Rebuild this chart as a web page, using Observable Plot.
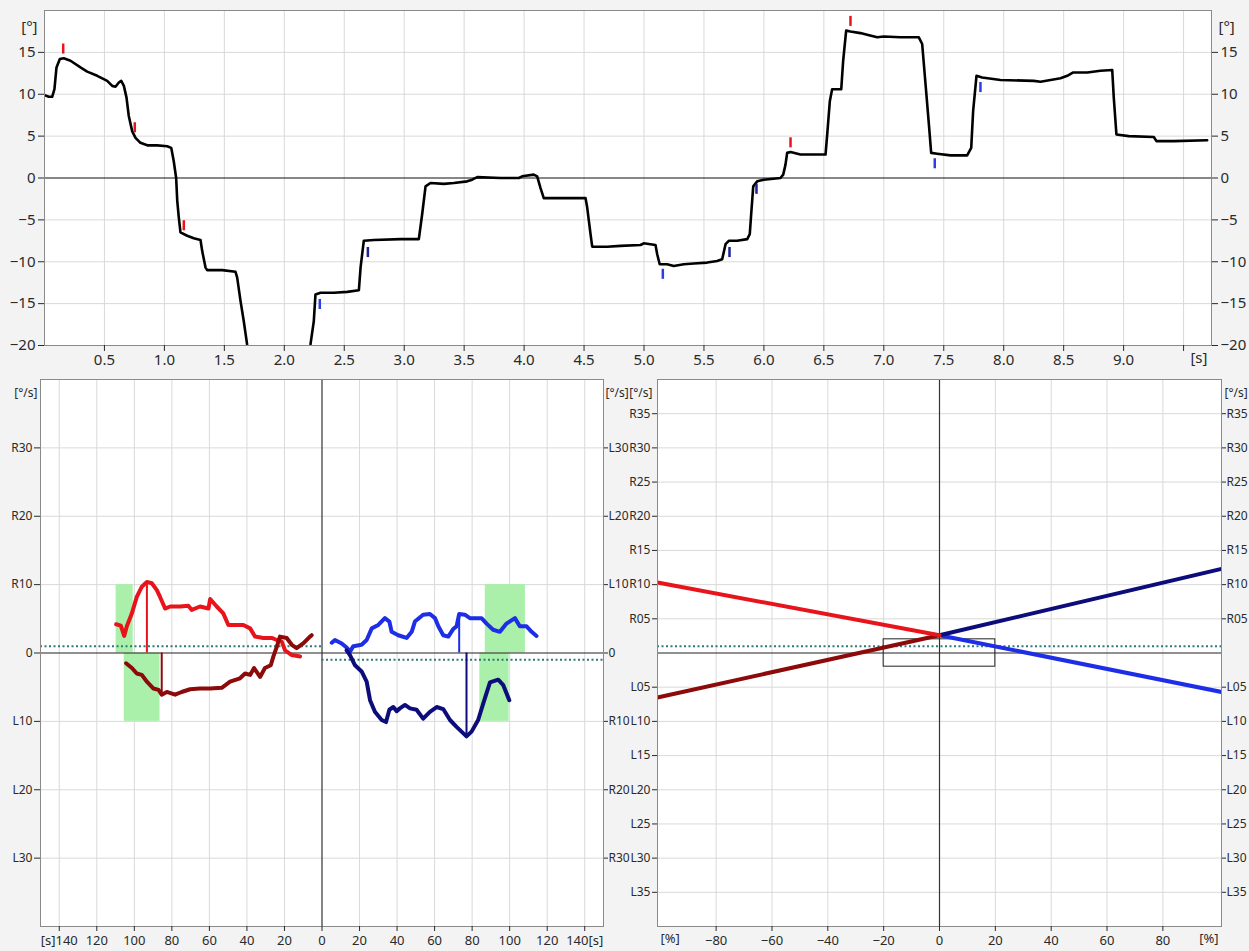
<!DOCTYPE html>
<html><head><meta charset="utf-8">
<script src="https://cdn.jsdelivr.net/npm/d3@7"></script>
<script src="https://cdn.jsdelivr.net/npm/@observablehq/plot@0.6"></script>
<style>
html,body{margin:0;padding:0;background:#f3f3f3;}
#wrap{position:relative;width:1249px;height:951px;overflow:hidden;font-family:"Noto Sans",sans-serif;}
#top,#bl,#br{position:absolute;}
#top{left:0;top:0} #bl{left:0;top:370px} #br{left:630px;top:370px}
</style></head><body><div id="wrap"><div id="top"></div><div id="bl"></div><div id="br"></div></div>
<script>
// ---------- TOP: angle over time ----------
const angleT = [0,0.036,0.064,0.083,0.1,0.128,0.161,0.217,0.3,0.356,
0.44,0.523,0.565,0.592,0.62,0.64,0.662,0.684,0.703,0.731,
0.759,0.8,0.857,0.94,1.023,1.057,1.078,1.098,1.107,1.12,
1.134,1.19,1.245,1.301,1.315,1.343,1.357,1.482,1.593,1.607,
1.635,1.662,1.69,1.72,1.95,2.19,2.218,2.246,2.26,2.302,
2.413,2.525,2.622,2.636,2.663,2.747,2.97,3.122,3.15,3.178,
3.219,3.33,3.414,3.525,3.567,3.609,3.803,3.956,3.984,4.081,
4.109,4.137,4.164,4.359,4.512,4.526,4.554,4.568,4.693,4.804,
4.971,4.998,5.096,5.11,5.131,5.193,5.248,5.332,5.415,5.527,
5.61,5.652,5.68,5.707,5.777,5.861,5.882,5.894,5.911,5.944,
5.999,6.138,6.161,6.18,6.194,6.222,6.305,6.514,6.528,6.55,
6.569,6.645,6.661,6.686,6.722,6.805,6.861,6.945,7.0,7.139,
7.292,7.32,7.348,7.376,7.395,7.445,7.556,7.695,7.729,7.745,
7.773,7.82,7.973,8.251,8.307,8.474,8.53,8.58,8.697,8.807,
8.905,8.918,8.94,9.043,9.252,9.274,9.419,9.697];
const angleV = [9.9,9.7,9.7,10.6,13.2,14.2,14.3,14.0,13.2,12.7,
12.2,11.6,11.0,10.9,11.4,11.6,11.0,9.6,7.4,5.6,
4.8,4.2,3.9,3.9,3.8,3.6,2.0,0.0,-2.7,-4.7,
-6.5,-6.9,-7.2,-7.4,-8.7,-10.7,-11.0,-11.0,-11.2,-11.9,
-14.7,-17.1,-19.9,-22,-25,-22,-19.9,-17.1,-13.9,-13.7,
-13.7,-13.6,-13.4,-10.7,-7.5,-7.4,-7.3,-7.3,-4.3,-1.0,
-0.6,-0.7,-0.6,-0.4,-0.2,0.1,0.0,0.0,0.2,0.4,
0.2,-1.2,-2.4,-2.4,-2.4,-3.5,-6.7,-8.2,-8.2,-8.1,
-8.0,-7.8,-8.0,-9.1,-10.3,-10.3,-10.5,-10.3,-10.2,-10.1,
-9.9,-9.7,-7.9,-7.5,-7.5,-7.3,-6.7,-4.3,-1.0,-0.4,
-0.2,0.0,0.4,1.6,3.0,3.1,2.8,2.8,5.2,9.2,
10.6,10.6,14.0,17.6,17.5,17.3,17.1,16.8,16.9,16.8,
16.8,16.0,11.2,6.4,3.0,2.9,2.7,2.7,3.6,8.0,
12.2,12.0,11.7,11.6,11.5,11.9,12.2,12.6,12.6,12.8,
12.9,9.6,5.2,5.0,4.9,4.4,4.4,4.5];
const markerT = [0.156,0.753,1.162,2.296,2.697,5.157,5.713,5.938,6.222,6.722,7.425,7.806];
const markerV = [15.4,6.0,-5.7,-15.1,-8.9,-11.5,-8.9,-1.35,4.2,18.7,1.7,10.8];
const markerKind = ["R","R","R","L","Ld","L","Ld","Ld","R","R","L","L"];
const topXDomain = [0, 9.733];
const topYDomain = [-20, 20];
const topXTicks = d3.range(1, 20).map(i => i / 2);   // 0.5 … 9.5
const topYTicks = d3.range(-20, 20, 5);              // -20 … 15

// ---------- BOTTOM LEFT: velocity profiles (mirrored time axis) ----------
const leftUpX = [109.7,107.2,105.4,104,101.3,98.7,96,93.3,90.7,88,86.3,83.6,80.9,75.6,71.2,69.4,65,60.5,59.6,56.1,52.6,49.9,45.4,41.9,38.3,35.7,31.3,26.8,24.1,21.5,19.7,16.1,11.7];
const leftUpY = [4.2,4.0,2.5,3.9,5.8,8.2,9.7,10.4,10.2,9.2,8.2,6.5,6.8,6.8,6.9,6.3,6.8,6.5,7.9,6.8,5.8,4.1,4.1,4.1,3.6,2.4,2.2,2.2,1.9,1.7,0.4,-0.3,-0.5];
const leftLowX = [104.4,101.3,98.7,96,93.3,89.8,87.1,85.4,82.7,78.3,74.8,70.3,65,59.6,53.4,49,43.7,41,38.3,36.2,33,30.4,27.3,25.9,24.1,22.4,18.8,16.1,13.5,10,6.4,5.5];
const leftLowY = [-1.5,-2.2,-3.0,-3.2,-4.2,-5.2,-5.4,-6.1,-5.7,-6.1,-5.7,-5.3,-5.2,-5.2,-5.1,-4.2,-3.7,-3.0,-3.2,-2.2,-3.5,-2.2,-1.8,-0.5,0.9,2.4,2.2,1.2,0.7,1.4,2.4,2.6];
const rightUpX = [5.2,6.9,10.5,13.1,14.9,16.7,21.1,23.8,26.5,30,33.5,35.9,37.1,40.6,45.1,47.8,49.5,53.9,57.5,60.2,62,64.6,67.3,69.9,71.7,73.1,76.1,78.8,85,87.7,91.2,94.8,98.3,102.8,105.4,109,111.7,114.3];
const rightUpY = [1.5,1.9,1.4,0.8,0.2,1.0,1.2,1.9,3.6,4.1,5.1,4.6,3.1,2.6,2.2,3.1,4.6,5.6,5.7,5.1,3.9,2.6,2.4,3.5,3.9,5.7,5.6,5.1,5.1,4.3,3.4,3.1,4.3,5.1,3.9,3.9,3.1,2.5];
const rightLowX = [13.1,14.9,17.6,21.1,23.8,25.6,28.2,31.8,34.1,35.9,38,39.8,41.5,44.2,46.9,50.4,53.9,57.5,61.1,64.6,68.2,71.7,77,79.7,83.2,85.9,89.5,93.9,96.6,99.8];
const rightLowY = [0.4,-0.3,-1.8,-2.7,-4.2,-6.9,-8.6,-9.8,-10.1,-8.3,-7.9,-8.5,-8.1,-7.6,-8.1,-8.3,-9.6,-8.6,-7.9,-8.2,-9.8,-10.8,-12.2,-11.5,-9.8,-7.4,-4.3,-3.9,-4.7,-6.9];
const peakSide = ["leftUp","leftLow","rightUp","rightLow"];
const peakX = [93.3, 85.4, 73.1, 77];
const peakY = [10.3, -6.1, 5.7, -12.2];
const zoneSide = ["leftUp","leftLow","rightUp","rightLow"];
const zoneX1 = [100.6, 86.3, 87, 84.1];
const zoneX2 = [109.7, 105.4, 108.4, 99.7];
const zoneY = [10, -10, 10, -10];
const thresholdLeft = 1;
const thresholdRight = -1;
const blXDomain = [-150, 150];
const velYDomain = [-40, 40];
const blXTicks = d3.range(-140, 141, 20);
const blYTicks = d3.range(-30, 31, 10);

// ---------- BOTTOM RIGHT: trend lines ----------
const trendX = [-101, 0, 101];
const redTrendY = [10.3, 2.6];      // x: -101 → 0
const darkRedTrendY = [-6.5, 2.6];  // x: -101 → 0
const blueTrendY = [2.6, -5.7];     // x: 0 → 101
const navyTrendY = [2.6, 12.3];     // x: 0 → 101
const boxX = [-20, 20];
const boxY = [-2, 2];
const brThreshold = 1;
const brXTicks = d3.range(-80, 81, 20);
const brYTicks = d3.range(-35, 36, 5).filter(d => d !== 0);

// ---------- helpers ----------
const C = {red: "#e8141c", darkred: "#8c0a0a", blue: "#1d2ee6", navy: "#0c0c7a", grid: "#d9d9d9", frame: "#8a8a8a", green: "#aaf0aa", dots: "#2c7a7a"};
const baseStyle = {background: "transparent", overflow: "visible", fontFamily: "'Noto Sans', sans-serif", fontSize: "15px", color: "#2a2a2a"};
const zip = (xs, ys, extra) => xs.map((x, i) => ({x, y: ys[i], ...extra}));

// ---------- TOP PLOT ----------
const angleRows = zip(angleT, angleV);
const markerRows = markerT.map((t, i) => ({t, v: markerV[i], kind: markerKind[i]}));
const topPlot = Plot.plot({
  width: 1249, height: 370,
  marginLeft: 44, marginRight: 38, marginTop: 10, marginBottom: 25,
  style: baseStyle,
  x: {domain: topXDomain, axis: null},
  y: {domain: topYDomain, axis: null},
  color: {domain: ["R", "L", "Ld"], range: [C.red, "#2a3de8", "#1c2296"]},
  marks: [
    Plot.frame({fill: "white", stroke: "none"}),
    Plot.gridX(topXTicks, {stroke: C.grid, strokeOpacity: 1}),
    Plot.gridY(topYTicks.filter(d => d !== 0 && d !== -20), {stroke: C.grid, strokeOpacity: 1}),
    Plot.ruleY([0], {stroke: "#111", strokeWidth: 1.2}),
    Plot.line(angleRows, {x: "x", y: "y", stroke: "#000", strokeWidth: 2.6, clip: true}),
    Plot.ruleX(markerRows, {x: "t", y1: d => d.v - 0.6, y2: d => d.v + 0.6, stroke: "kind", strokeWidth: 2.5}),
    Plot.frame({stroke: C.frame}),
    Plot.axisX(topXTicks, {anchor: "bottom", label: null, tickSize: 6, tickFormat: d => d === 9.5 ? "" : d.toFixed(1)}),
    Plot.axisY(topYTicks, {anchor: "left", label: null, tickSize: 6}),
    Plot.axisY(topYTicks, {anchor: "right", label: null, tickSize: 6}),
    Plot.text(["[s]"], {frameAnchor: "bottom-right", text: d => d, textAnchor: "end", dx: -4, dy: 17}),
    Plot.text(["[°]"], {frameAnchor: "top-left", text: d => d, textAnchor: "end", dx: -7, dy: 11}),
    Plot.text(["[°]"], {frameAnchor: "top-right", text: d => d, textAnchor: "start", dx: 7, dy: 11})
  ]
});
document.getElementById("top").append(topPlot);

// ---------- BOTTOM LEFT PLOT ----------
const mirror = rows => rows.map(r => ({...r, x: -r.x}));
const leftUpRows = mirror(zip(leftUpX, leftUpY));
const leftLowRows = mirror(zip(leftLowX, leftLowY));
const rightUpRows = zip(rightUpX, rightUpY);
const rightLowRows = zip(rightLowX, rightLowY);
const isLeft = s => s.startsWith("left");
const peakRows = peakSide.map((s, i) => ({side: s, x: isLeft(s) ? -peakX[i] : peakX[i], y: peakY[i]}));
const zoneRows = zoneSide.map((s, i) => ({side: s, x1: isLeft(s) ? -zoneX1[i] : zoneX1[i], x2: isLeft(s) ? -zoneX2[i] : zoneX2[i], y: zoneY[i]}));
const sideColor = {leftUp: C.red, leftLow: C.darkred, rightUp: C.blue, rightLow: C.navy};
const thrRows = [{y: thresholdLeft, x1: blXDomain[0], x2: 0}, {y: thresholdRight, x1: 0, x2: blXDomain[1]}];
const rl = d => d === 0 ? "0" : (d > 0 ? "R" : "L") + Math.abs(d);
const lr = d => d === 0 ? "0" : (d > 0 ? "L" : "R") + Math.abs(d);
const smallStyle = {...baseStyle, fontSize: "12px"};

const blPlot = Plot.plot({
  width: 630, height: 581,
  marginLeft: 40, marginRight: 27, marginTop: 9, marginBottom: 25,
  style: smallStyle,
  x: {domain: blXDomain, axis: null},
  y: {domain: velYDomain, axis: null},
  marks: [
    Plot.frame({fill: "white", stroke: "none"}),
    Plot.gridX(blXTicks.filter(d => d !== 0), {stroke: C.grid, strokeOpacity: 1}),
    Plot.gridY(blYTicks.filter(d => d !== 0), {stroke: C.grid, strokeOpacity: 1}),
    Plot.rect(zoneRows, {x1: "x1", x2: "x2", y1: 0, y2: "y", fill: C.green}),
    Plot.ruleY([0], {stroke: "#222", strokeWidth: 1.2}),
    Plot.ruleX([0], {stroke: "#333", strokeWidth: 1.2}),
    Plot.ruleY(thrRows, {y: "y", x1: "x1", x2: "x2", stroke: C.dots, strokeWidth: 2, strokeDasharray: "2,2.5"}),
    Plot.line(leftUpRows, {x: "x", y: "y", stroke: C.red, strokeWidth: 4, strokeLinejoin: "round"}),
    Plot.line(leftLowRows, {x: "x", y: "y", stroke: C.darkred, strokeWidth: 4, strokeLinejoin: "round"}),
    Plot.line(rightUpRows, {x: "x", y: "y", stroke: C.blue, strokeWidth: 4, strokeLinejoin: "round"}),
    Plot.line(rightLowRows, {x: "x", y: "y", stroke: C.navy, strokeWidth: 4, strokeLinejoin: "round"}),
    Plot.ruleX(peakRows, {x: "x", y1: 0, y2: "y", stroke: d => sideColor[d.side], strokeWidth: 2}),
    Plot.frame({stroke: C.frame}),
    Plot.axisX(blXTicks, {anchor: "bottom", label: null, tickSize: 5, fontSize: 13, tickFormat: d => d === blXTicks[0] ? "[s]" + Math.abs(d) : d === blXTicks[blXTicks.length - 1] ? d + "[s]" : String(Math.abs(d))}),
    Plot.axisY(blYTicks, {anchor: "left", label: null, tickSize: 6, tickPadding: 2, tickFormat: rl}),
    Plot.axisY(blYTicks, {anchor: "right", label: null, tickSize: 4, tickPadding: 1, tickFormat: lr}),
    Plot.text(["[°/s]"], {frameAnchor: "top-left", text: d => d, textAnchor: "end", dx: -3, dy: 9}),
    Plot.text(["[°/s]"], {frameAnchor: "top-right", text: d => d, textAnchor: "start", dx: 2, dy: 9})
  ]
});
document.getElementById("bl").append(blPlot);

// ---------- BOTTOM RIGHT PLOT ----------
const seg = (xs, ys) => xs.map((x, i) => ({x, y: ys[i]}));
const redRows = seg([trendX[0], trendX[1]], redTrendY);
const darkRedRows = seg([trendX[0], trendX[1]], darkRedTrendY);
const blueRows = seg([trendX[1], trendX[2]], blueTrendY);
const navyRows = seg([trendX[1], trendX[2]], navyTrendY);
const pad = d => (d > 0 ? "R" : "L") + String(Math.abs(d)).padStart(2, "0");

const brPlot = Plot.plot({
  width: 619, height: 581,
  marginLeft: 27, marginRight: 28, marginTop: 9, marginBottom: 25,
  style: smallStyle,
  x: {domain: [trendX[0], trendX[2]], axis: null},
  y: {domain: velYDomain, axis: null},
  marks: [
    Plot.frame({fill: "white", stroke: "none"}),
    Plot.gridX(brXTicks.filter(d => d !== 0), {stroke: C.grid, strokeOpacity: 1}),
    Plot.gridY(brYTicks, {stroke: C.grid, strokeOpacity: 1}),
    Plot.ruleY([0], {stroke: "#222", strokeWidth: 1.2}),
    Plot.ruleX([0], {stroke: "#333", strokeWidth: 1.2}),
    Plot.ruleY([brThreshold], {stroke: C.dots, strokeWidth: 2, strokeDasharray: "2,2.5"}),
    Plot.rect([{x1: boxX[0], x2: boxX[1], y1: boxY[0], y2: boxY[1]}], {x1: "x1", x2: "x2", y1: "y1", y2: "y2", fill: "none", stroke: "#222", strokeWidth: 1}),
    Plot.line(darkRedRows, {x: "x", y: "y", stroke: C.darkred, strokeWidth: 4, clip: true}),
    Plot.line(blueRows, {x: "x", y: "y", stroke: C.blue, strokeWidth: 4, clip: true}),
    Plot.line(navyRows, {x: "x", y: "y", stroke: C.navy, strokeWidth: 4, clip: true}),
    Plot.line(redRows, {x: "x", y: "y", stroke: C.red, strokeWidth: 4, clip: true}),
    Plot.frame({stroke: C.frame}),
    Plot.axisX(brXTicks, {anchor: "bottom", label: null, tickSize: 5, fontSize: 13}),
    Plot.text(["[%]"], {frameAnchor: "bottom-left", text: d => d, textAnchor: "start", dx: 3, dy: 16, fontSize: 13}),
    Plot.text(["[%]"], {frameAnchor: "bottom-right", text: d => d, textAnchor: "end", dx: -3, dy: 16, fontSize: 13}),
    Plot.axisY(brYTicks, {anchor: "left", label: null, tickSize: 5, tickPadding: 2, tickFormat: pad}),
    Plot.axisY(brYTicks, {anchor: "right", label: null, tickSize: 4, tickPadding: 1, tickFormat: pad}),
    Plot.text(["[°/s]"], {frameAnchor: "top-left", text: d => d, textAnchor: "end", dx: -5, dy: 9}),
    Plot.text(["[°/s]"], {frameAnchor: "top-right", text: d => d, textAnchor: "start", dx: 3, dy: 9})
  ]
});
document.getElementById("br").append(brPlot);
</script></body></html>
